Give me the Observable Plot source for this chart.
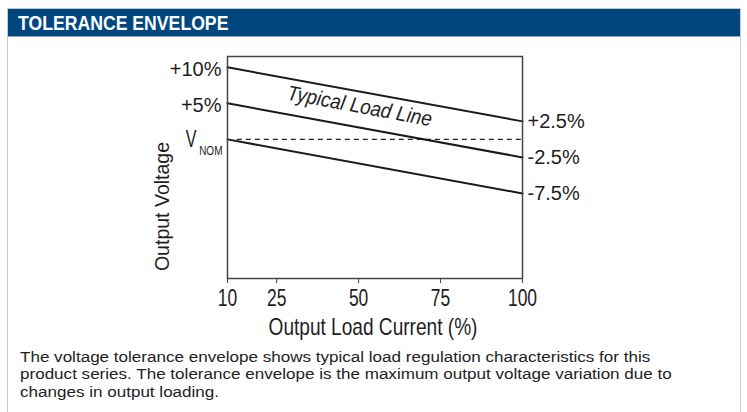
<!DOCTYPE html>
<html>
<head>
<meta charset="utf-8">
<script src="https://cdn.jsdelivr.net/npm/d3@7"></script>
<script src="https://cdn.jsdelivr.net/npm/@observablehq/plot@0.6"></script>
<style>
  html, body { margin: 0; padding: 0; background: #fff; }
  body { width: 747px; height: 412px; position: relative; overflow: hidden;
         font-family: "Liberation Sans", Arial, sans-serif; }
  #box { position: absolute; left: 7px; top: 8px; width: 732px; height: 420px;
         border: 1.5px solid #c9c9c9; border-bottom: none; }
  #header { position: absolute; left: 0; top: 0; width: 732px; height: 28px; background: #00467f;
            border-bottom: 1px solid #8aa6c0; box-sizing: border-box; }
  #header span { position: absolute; left: 10px; top: 0; color: #fff; font-weight: bold; font-size: 21px;
                 line-height: 28px; white-space: nowrap; transform: scaleX(0.84); transform-origin: left center; }
  #chart { position: absolute; left: 0; top: 28px; }
  #caption { position: absolute; left: 11.5px; top: 338.5px; white-space: nowrap; font-size: 15.5px; line-height: 17.8px;
             color: #222; transform: scaleX(1.1); transform-origin: left top; }
</style>
</head>
<body>
<div id="box">
  <div id="header"><span>TOLERANCE ENVELOPE</span></div>
  <div id="chart"></div>
  <div id="caption">The voltage tolerance envelope shows typical load regulation characteristics for this<br>product series. The tolerance envelope is the maximum output voltage variation due to<br>changes in output loading.</div>
</div>
<script>
// Data
const loadCurrent = [10, 100];            // Output Load Current (%)
const upperLimit = [10, 2.5];             // upper tolerance line (%)
const typicalLine = [5, -2.5];            // typical load line (%)
const lowerLimit = [0, -7.5];             // lower tolerance line (%)
const nominal = 0;                        // V_NOM
const xTicks = [10, 25, 50, 75, 100];
const leftTicks = [10, 5];
const leftTickLabels = ["+10%", "+5%"];
const rightTicks = [2.5, -2.5, -7.5];
const rightTickLabels = ["+2.5%", "-2.5%", "-7.5%"];
const yDomain = [-19.3, 11.5];
const xTitle = "Output Load Current (%)";
const yTitle = "Output Voltage";
const annotation = "Typical Load Line";
const annotationAt = {x: 50.3, y: 4.6};

const rows = [];
[["upper", upperLimit], ["typical", typicalLine], ["lower", lowerLimit]].forEach(([name, vals]) => {
  loadCurrent.forEach((x, i) => rows.push({series: name, x, y: vals[i]}));
});

const font = '"Liberation Sans", Arial, sans-serif';

const chart = Plot.plot({
  width: 732,
  height: 305,
  marginLeft: 219,
  marginRight: 218,
  marginTop: 19,
  marginBottom: 64,
  style: {fontFamily: font, fontSize: "20px", color: "#1e1e1e", background: "transparent", overflow: "visible"},
  x: {domain: [10, 100]},
  y: {domain: yDomain},
  marks: [
    Plot.ruleY([nominal], {x1: 13, x2: 100, stroke: "#222", strokeWidth: 1.2, strokeDasharray: "5,4"}),
    Plot.line(rows, {x: "x", y: "y", z: "series", stroke: "#1a1a1a", strokeWidth: 2}),
    Plot.frame({stroke: "#444", strokeWidth: 1.5}),
    Plot.axisX({ticks: xTicks, tickSize: 5, tickPadding: 6, fontSize: 23, label: null, stroke: "#444"}),
    Plot.axisY({ticks: leftTicks, tickSize: 0, tickPadding: 6, fontSize: 20, dy: 2,
                tickFormat: d => leftTickLabels[leftTicks.indexOf(d)], label: null}),
    Plot.axisY({anchor: "right", ticks: rightTicks, tickSize: 0, tickPadding: 5, fontSize: 20,
                tickFormat: d => rightTickLabels[rightTicks.indexOf(d)], label: null}),
    Plot.text([nominal], {x: () => loadCurrent[0], y: d => d, text: () => "V", textAnchor: "end", dx: -31, dy: 0, fontSize: 24}),
    Plot.text([nominal], {x: () => loadCurrent[0], y: d => d, text: () => "NOM", textAnchor: "end", dx: -5, dy: 11, fontSize: 13}),
    Plot.text([annotation], {x: () => annotationAt.x, y: () => annotationAt.y, text: d => d, rotate: 10.5, fontSize: 21, fontStyle: "italic"}),
    Plot.text([xTitle], {frameAnchor: "bottom", textAnchor: "middle", lineAnchor: "middle", dx: -2, dy: 49, fontSize: 23, text: d => d}),
    Plot.text([yTitle], {frameAnchor: "left", textAnchor: "middle", lineAnchor: "middle", dx: -65, dy: 39, rotate: -90, fontSize: 21, text: d => d})
  ]
});

// Condense glyphs horizontally to imitate the narrow typeface of the original
const squeeze = new Map([
  ["V", 0.67], ["NOM", 0.77], [annotation, 0.9], [xTitle, 0.83], [yTitle, 0.93]
]);
xTicks.forEach(t => squeeze.set(String(t), 0.76));
d3.select(chart).selectAll("text").each(function() {
  const el = this;
  const s = squeeze.get(el.textContent);
  if (!s) return;
  const tr = el.getAttribute("transform") || "";
  el.setAttribute("transform", (tr + ` scale(${s},1)`).trim());
});

document.getElementById("chart").appendChild(chart);
</script>
</body>
</html>
